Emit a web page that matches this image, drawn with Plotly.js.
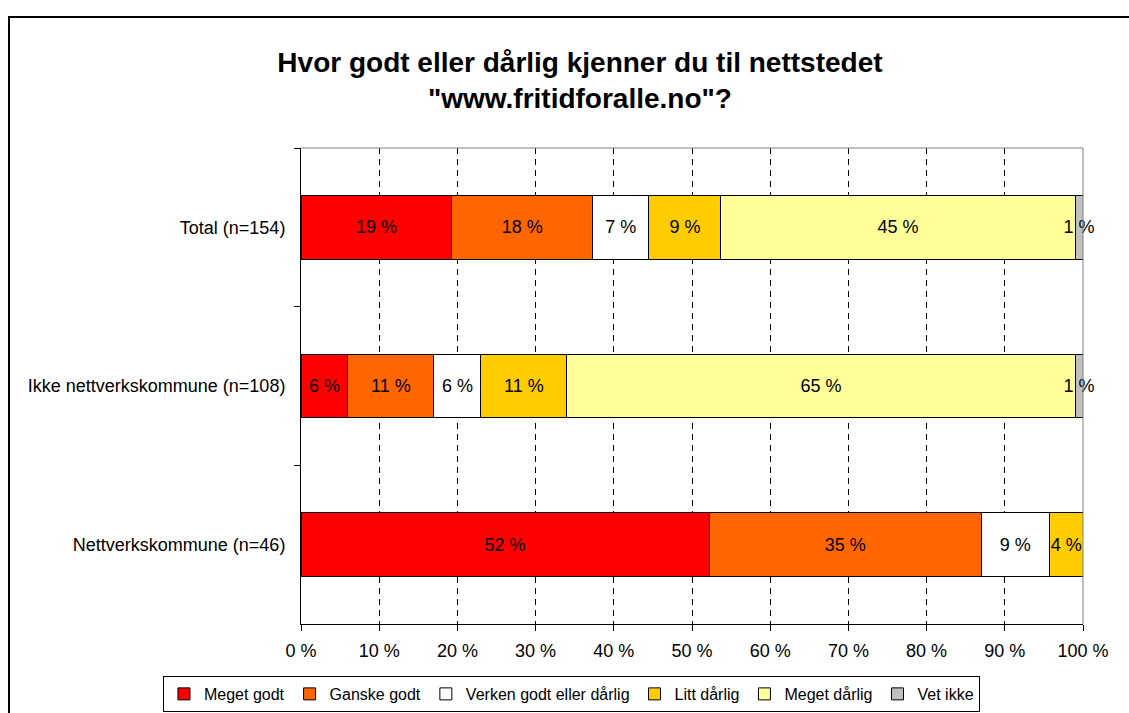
<!DOCTYPE html>
<html>
<head>
<meta charset="utf-8">
<script src="https://cdn.plot.ly/plotly-3.0.1.min.js"></script>
<style>
  body { margin: 0; background: #fff; }
  #chart { width: 1129px; height: 713px; }
</style>
</head>
<body>
<div id="chart"></div>
<script>
// groups, top to bottom
var groups = ['Total (n=154)', 'Ikke nettverkskommune (n=108)', 'Nettverkskommune (n=46)'];

// answer shares in percent, one array per answer
var megetGodt = [19.3, 6.0, 52.2];
var ganskeGodt = [18.0, 11.0, 34.8];
var verken = [7.2, 6.0, 8.7];
var littDarlig = [9.2, 11.0, 4.3];
var megetDarlig = [45.3, 65.0, 0];
var vetIkke = [1.0, 1.0, 0];

var answers = ['Meget godt', 'Ganske godt', 'Verken godt eller dårlig', 'Litt dårlig', 'Meget dårlig', 'Vet ikke'];
var series = [megetGodt, ganskeGodt, verken, littDarlig, megetDarlig, vetIkke];
var colors = ['#FF0000', '#FF6600', '#FFFFFF', '#FFCC00', '#FFFF99', '#C0C0C0'];

var xTicks = [0, 10, 20, 30, 40, 50, 60, 70, 80, 90, 100];

var font = 'Liberation Sans, Arial, sans-serif';

var data = [];
for (var i = 0; i < series.length; i++) {
  // hide labels on empty segments
  var labels = series[i].map(function (v) { return v > 0 ? Math.round(v) + ' %' : ''; });
  data.push({
    type: 'bar',
    orientation: 'h',
    name: answers[i],
    y: groups,
    x: series[i],
    text: labels,
    texttemplate: '%{text}',
    textposition: 'inside',
    insidetextanchor: 'middle',
    textangle: 0,
    constraintext: 'none',
    cliponaxis: false,
    textfont: { family: font, size: 18, color: '#000' },
    marker: { color: colors[i], line: { color: '#000', width: 1 } },
    hoverinfo: 'name+x'
  });
}

var layout = {
  width: 1129,
  height: 713,
  paper_bgcolor: '#fff',
  plot_bgcolor: '#fff',
  barmode: 'stack',
  bargap: 0.6,
  margin: { l: 301, r: 46, t: 148, b: 89, autoexpand: false },
  font: { family: font, size: 18, color: '#000' },
  title: {
    text: 'Hvor godt eller dårlig kjenner du til nettstedet<br>"www.fritidforalle.no"?',
    font: { family: font, size: 28, color: '#000', weight: 'bold' },
    x: 0.5137,
    xanchor: 'center',
    xref: 'container',
    y: 0.899,
    yanchor: 'middle',
    yref: 'container'
  },
  xaxis: {
    range: [0, 100],
    tickvals: xTicks,
    ticktext: xTicks.map(function (t) { return t + ' %'; }),
    ticks: 'outside',
    ticklen: 6,
    tickcolor: '#000',
    showline: true,
    linecolor: '#000',
    linewidth: 1,
    showgrid: true,
    gridcolor: '#000',
    gridwidth: 1,
    griddash: '6px,5px',
    zeroline: false,
    automargin: false,
    tickfont: { family: font, size: 18, color: '#000' },
    ticklabelstandoff: 4,
    fixedrange: true
  },
  yaxis: {
    type: 'category',
    autorange: 'reversed',
    ticks: 'outside',
    tickson: 'boundaries',
    ticklen: 6,
    tickcolor: '#000',
    showline: true,
    linecolor: '#000',
    linewidth: 1,
    showgrid: false,
    zeroline: false,
    automargin: false,
    tickfont: { family: font, size: 18, color: '#000' },
    ticklabelstandoff: 11,
    fixedrange: true
  },
  showlegend: true,
  legend: {
    orientation: 'h',
    traceorder: 'normal',
    x: -0.1765,
    xanchor: 'left',
    y: -0.1092,
    yanchor: 'top',
    bgcolor: '#fff',
    bordercolor: '#000',
    borderwidth: 1,
    itemwidth: 30,
    font: { family: font, size: 16, color: '#000' }
  },
  shapes: [
    // top and right edge of the plot area
    { type: 'line', xref: 'paper', yref: 'paper', x0: 0, x1: 1, y0: 1, y1: 1,
      line: { color: '#808080', width: 1 } },
    { type: 'line', xref: 'paper', yref: 'paper', x0: 1, x1: 1, y0: 0, y1: 1,
      line: { color: '#808080', width: 1 } },
    // outer chart frame
    { type: 'rect', xref: 'paper', yref: 'paper', x0: -0.3734, x1: 1.2, y0: -0.3, y1: 1.2752,
      line: { color: '#000', width: 2 }, fillcolor: 'rgba(0,0,0,0)' }
  ]
};

var config = { responsive: false, displaylogo: false, displayModeBar: false };

Plotly.newPlot('chart', data, layout, config);
</script>
</body>
</html>
